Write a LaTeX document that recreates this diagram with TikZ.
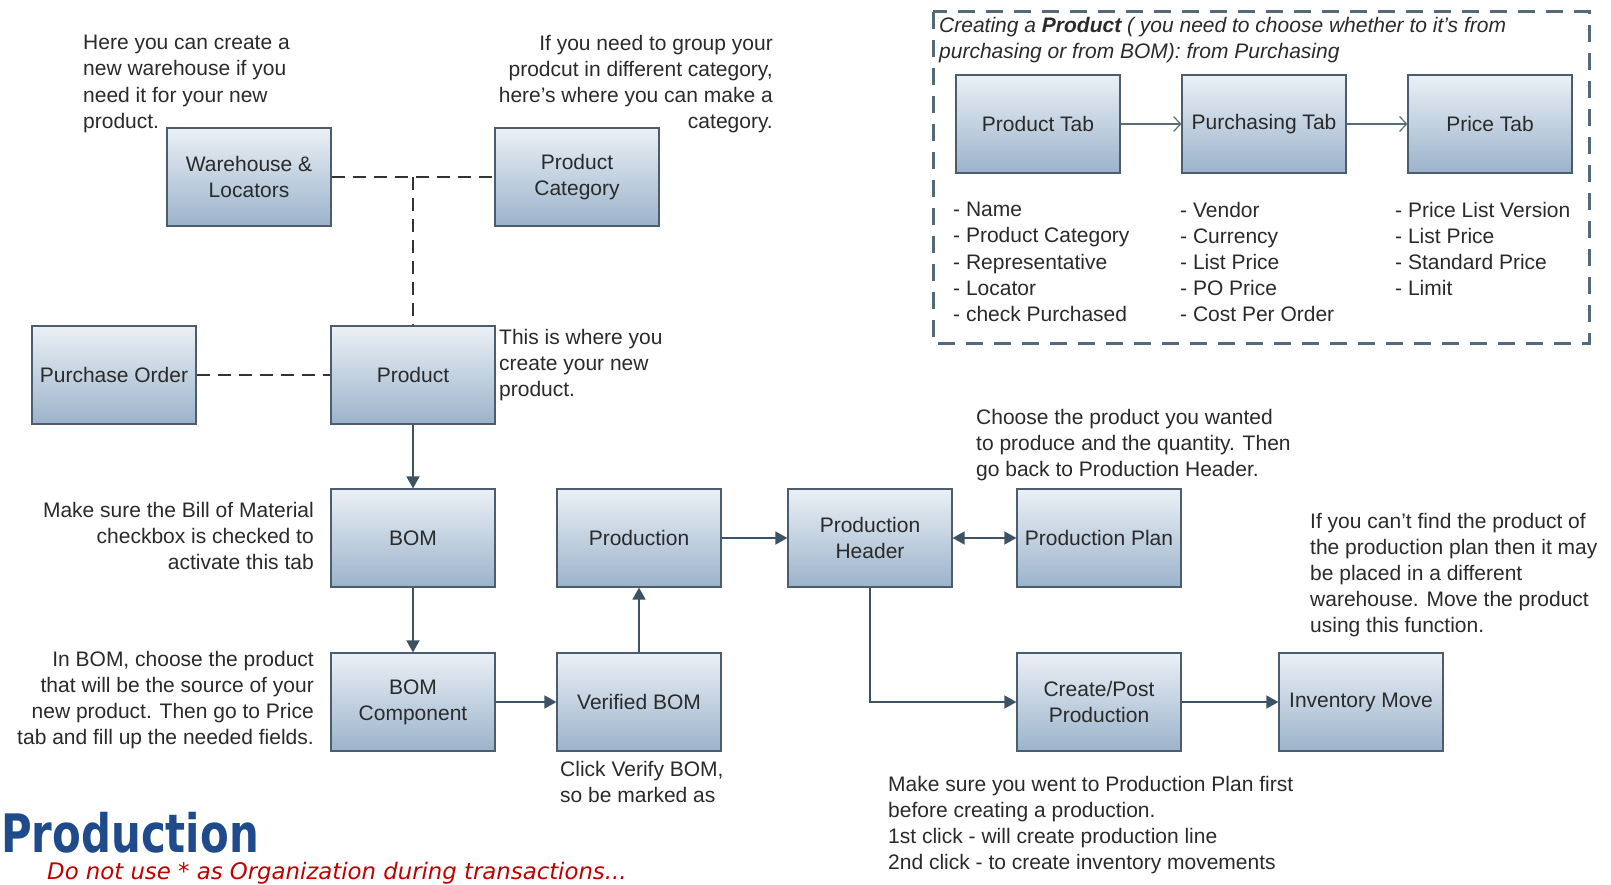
\documentclass[tikz,border=0pt]{standalone}
\usepackage{fontspec}
\setmainfont{Liberation Sans}
\newfontfamily\titlefont[FakeStretch=0.79]{DejaVu Sans}
\newfontfamily\warnfont{DejaVu Sans}
\usetikzlibrary{arrows.meta,positioning,calc}

\definecolor{boxtop}{HTML}{EBF0F6}
\definecolor{boxbot}{HTML}{9BB3CB}
\definecolor{boxline}{HTML}{4C5E6E}
\definecolor{flowline}{HTML}{3D5364}
\definecolor{framegray}{HTML}{56697B}
\definecolor{titleblue}{HTML}{1F4B8C}
\definecolor{warnred}{HTML}{C00000}
\definecolor{txt}{HTML}{2A2A2A}

\tikzset{
	stepbox/.style={draw=boxline,line width=1.2pt,top color=boxtop,bottom color=boxbot,
		minimum width=164pt,minimum height=98pt,align=center,text=txt,inner sep=2pt},
	note/.style={text=txt,inner sep=0pt},
	flow/.style={draw=flowline,line width=1.6pt,-{Triangle[length=12pt,width=13pt]}},
	link/.style={draw=black!80,line width=1.1pt,dash pattern=on 13pt off 8pt},
	tabflow/.style={draw=flowline!85,line width=1.2pt,-{Straight Barb[length=7pt,width=15pt]}},
	framebox/.style={draw=framegray,line width=3pt,dash pattern=on 17pt off 11pt},
}

\begin{document}
\begin{tikzpicture}[x=1pt,y=-1pt,every node/.style={font=\fontsize{21}{26.2}\selectfont}]
		\useasboundingbox (0,0) rectangle (1611,885);

		% boxes of the main flow
		\begin{scope}[every node/.append style={stepbox}]
			\node (wh) at (249,177) {Warehouse \&\\Locators};
			\node (pc) at (577,177) {Product\\Category};
			\node (po) at (114,375) {Purchase Order};
			\node (prod) at (413,375) {Product};
			\node (bom) at (413,538) {BOM};
			\node (pn) at (639,538) {Production};
			\node (ph) at (870,538) {Production\\Header};
			\node (pp) at (1099,538) {Production Plan};
			\node (bomc) at (413,702) {BOM\\Component};
			\node (vbom) at (639,702) {Verified BOM};
			\node (cp) at (1099,702) {Create/Post\\Production};
			\node (im) at (1361,702) {Inventory Move};
			% tabs
			\node (ptab) at (1038,124) {Product Tab};
			\node (utab) at (1264,124) {Purchasing Tab};
			\node (rtab) at (1490,124) {Price Tab};
		\end{scope}

		\draw[framebox] (933,12) rectangle (1589,343);

		% notes
		\begin{scope}[every node/.append style={note}]
			\node[anchor=west,align=left] (n1) at (83,84) {Here you can create a\\new warehouse if you\\need it for your new\\product.};
			\node[anchor=east,align=right] (n2) at (773,84) {If you need to group your\\prodcut in different category,\\here's where you can make a\\category.};
			\node[anchor=west,align=left] (n3) at (499,365) {This is where you\\create your new\\product.};
			\node[anchor=east,align=right] (n4) at (314,536) {Make sure the Bill of Material\\checkbox is checked to\\activate this tab};
			\node[anchor=east,align=right] (n5) at (314,700) {In BOM, choose the product\\that will be the source of your\\new product. Then go to Price\\tab and fill up the needed fields.};
			\node[anchor=west,align=left] (n6) at (560,782) {Click Verify BOM,\\so be marked as};
			\node[anchor=west,align=left] (n7) at (976,445) {Choose the product you wanted\\to produce and the quantity. Then\\go back to Production Header.};
			\node[anchor=west,align=left] (n8) at (1310,575) {If you can't find the product of\\the production plan then it may\\be placed in a different\\warehouse. Move the product\\using this function.};
			\node[anchor=west,align=left] (n9) at (888,825) {Make sure you went to Production Plan first\\before creating a production.\\1st click - will create production line\\2nd click - to create inventory movements};
			\node[anchor=west,align=left] (fr) at (939,40) {\itshape Creating a \textbf{Product} ( you need to choose whether to it's from\\\itshape purchasing or from BOM): from Purchasing};
			\node[anchor=west,align=left] (l1) at (953,262) {- Name\\- Product Category\\- Representative\\- Locator\\- check Purchased};
			\node[anchor=west,align=left] (l2) at (1180,262) {- Vendor\\- Currency\\- List Price\\- PO Price\\- Cost Per Order};
			\node[anchor=west,align=left] (l3) at (1395,249) {- Price List Version\\- List Price\\- Standard Price\\- Limit};
		\end{scope}

		\node[anchor=base west,inner sep=0pt,text=titleblue,font=\titlefont\bfseries\fontsize{53}{60}\selectfont] (ttl) at (1,852) {Production};
		\node[anchor=base west,inner sep=0pt,text=warnred,font=\warnfont\itshape\fontsize{22.8}{27}\selectfont] (warn) at (47,879) {Do not use * as Organization during transactions...};

		% connectors
		\coordinate (jn) at (413,177);
		\draw[link] (wh.east) -- (pc.west);
		\draw[link] (jn) -- (prod.north);
		\draw[link] (po.east) -- (prod.west);

		\draw[flow] (prod.south) -- (bom.north);
		\draw[flow] (bom.south) -- (bomc.north);
		\draw[flow] (bomc.east) -- (vbom.west);
		\draw[flow] (vbom.north) -- (pn.south);
		\draw[flow] (pn.east) -- (ph.west);
		\draw[flow,{Triangle[length=12pt,width=13pt]}-{Triangle[length=12pt,width=13pt]}] (ph.east) -- (pp.west);
		\draw[flow] (ph.south) |- (cp.west);
		\draw[flow] (cp.east) -- (im.west);

		\draw[tabflow] (ptab.east) -- (utab.west);
		\draw[tabflow] (utab.east) -- (rtab.west);
	\end{tikzpicture}
\end{document}
